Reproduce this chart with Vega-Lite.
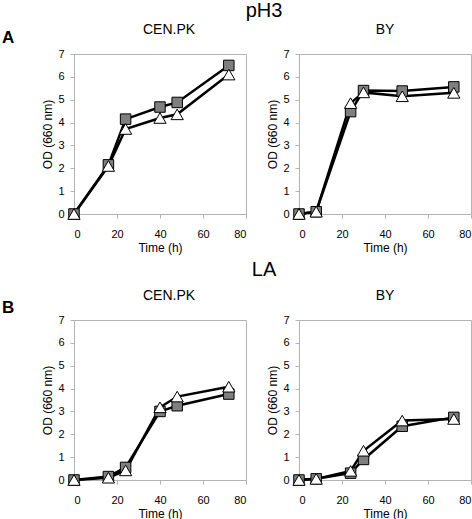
{
  "$schema": "https://vega.github.io/schema/vega-lite/v6.json",
  "padding": {"left": 2, "top": 0, "right": 4, "bottom": 2},
  "background": "white",
  "datasets": {
    "growth": [
      {"condition": "pH3", "strain": "CEN.PK", "series": "Series 1", "time": 0, "od": 0},
      {"condition": "pH3", "strain": "CEN.PK", "series": "Series 1", "time": 16, "od": 2.15},
      {"condition": "pH3", "strain": "CEN.PK", "series": "Series 1", "time": 24, "od": 4.15},
      {"condition": "pH3", "strain": "CEN.PK", "series": "Series 1", "time": 40, "od": 4.68},
      {"condition": "pH3", "strain": "CEN.PK", "series": "Series 1", "time": 48, "od": 4.88},
      {"condition": "pH3", "strain": "CEN.PK", "series": "Series 1", "time": 72, "od": 6.5},
      {"condition": "pH3", "strain": "CEN.PK", "series": "Series 2", "time": 0, "od": 0},
      {"condition": "pH3", "strain": "CEN.PK", "series": "Series 2", "time": 16, "od": 2.1},
      {"condition": "pH3", "strain": "CEN.PK", "series": "Series 2", "time": 24, "od": 3.72},
      {"condition": "pH3", "strain": "CEN.PK", "series": "Series 2", "time": 40, "od": 4.2},
      {"condition": "pH3", "strain": "CEN.PK", "series": "Series 2", "time": 48, "od": 4.36},
      {"condition": "pH3", "strain": "CEN.PK", "series": "Series 2", "time": 72, "od": 6.1},
      {"condition": "pH3", "strain": "BY", "series": "Series 1", "time": 0, "od": 0},
      {"condition": "pH3", "strain": "BY", "series": "Series 1", "time": 8, "od": 0.1},
      {"condition": "pH3", "strain": "BY", "series": "Series 1", "time": 24, "od": 4.48},
      {"condition": "pH3", "strain": "BY", "series": "Series 1", "time": 30, "od": 5.4},
      {"condition": "pH3", "strain": "BY", "series": "Series 1", "time": 48, "od": 5.38},
      {"condition": "pH3", "strain": "BY", "series": "Series 1", "time": 72, "od": 5.56},
      {"condition": "pH3", "strain": "BY", "series": "Series 2", "time": 0, "od": 0},
      {"condition": "pH3", "strain": "BY", "series": "Series 2", "time": 8, "od": 0.1},
      {"condition": "pH3", "strain": "BY", "series": "Series 2", "time": 24, "od": 4.85},
      {"condition": "pH3", "strain": "BY", "series": "Series 2", "time": 30, "od": 5.32},
      {"condition": "pH3", "strain": "BY", "series": "Series 2", "time": 48, "od": 5.15},
      {"condition": "pH3", "strain": "BY", "series": "Series 2", "time": 72, "od": 5.3},
      {"condition": "LA", "strain": "CEN.PK", "series": "Series 1", "time": 0, "od": 0},
      {"condition": "LA", "strain": "CEN.PK", "series": "Series 1", "time": 16, "od": 0.15},
      {"condition": "LA", "strain": "CEN.PK", "series": "Series 1", "time": 24, "od": 0.55},
      {"condition": "LA", "strain": "CEN.PK", "series": "Series 1", "time": 40, "od": 3.0},
      {"condition": "LA", "strain": "CEN.PK", "series": "Series 1", "time": 48, "od": 3.25},
      {"condition": "LA", "strain": "CEN.PK", "series": "Series 1", "time": 72, "od": 3.76},
      {"condition": "LA", "strain": "CEN.PK", "series": "Series 2", "time": 0, "od": 0},
      {"condition": "LA", "strain": "CEN.PK", "series": "Series 2", "time": 16, "od": 0.1},
      {"condition": "LA", "strain": "CEN.PK", "series": "Series 2", "time": 24, "od": 0.42},
      {"condition": "LA", "strain": "CEN.PK", "series": "Series 2", "time": 40, "od": 3.18},
      {"condition": "LA", "strain": "CEN.PK", "series": "Series 2", "time": 48, "od": 3.65},
      {"condition": "LA", "strain": "CEN.PK", "series": "Series 2", "time": 72, "od": 4.08},
      {"condition": "LA", "strain": "BY", "series": "Series 1", "time": 0, "od": 0},
      {"condition": "LA", "strain": "BY", "series": "Series 1", "time": 8, "od": 0.05},
      {"condition": "LA", "strain": "BY", "series": "Series 1", "time": 24, "od": 0.3},
      {"condition": "LA", "strain": "BY", "series": "Series 1", "time": 30, "od": 0.9},
      {"condition": "LA", "strain": "BY", "series": "Series 1", "time": 48, "od": 2.35},
      {"condition": "LA", "strain": "BY", "series": "Series 1", "time": 72, "od": 2.74},
      {"condition": "LA", "strain": "BY", "series": "Series 2", "time": 0, "od": 0},
      {"condition": "LA", "strain": "BY", "series": "Series 2", "time": 8, "od": 0.05},
      {"condition": "LA", "strain": "BY", "series": "Series 2", "time": 24, "od": 0.4},
      {"condition": "LA", "strain": "BY", "series": "Series 2", "time": 30, "od": 1.28},
      {"condition": "LA", "strain": "BY", "series": "Series 2", "time": 48, "od": 2.6},
      {"condition": "LA", "strain": "BY", "series": "Series 2", "time": 72, "od": 2.67}
    ]
  },
  "spacing": 5,
  "vconcat": [
    {
      "title": {"text": "pH3", "fontSize": 20, "anchor": "middle", "frame": "bounds", "dx": 27, "offset": 2},
      "spacing": 19,
      "hconcat": [
        {
          "title": {"text": "A", "anchor": "start", "frame": "group", "fontSize": 17, "fontWeight": "bold", "offset": -24, "dx": -72},
          "vconcat": [
            {
              "width": 172, "height": 160,
              "title": {"text": "CEN.PK", "frame": "group", "anchor": "middle", "dx": 9},
              "data": {"name": "growth"},
              "transform": [{"filter": "datum.condition == 'pH3' && datum.strain == 'CEN.PK'"}],
              "encoding": {
                "x": {"field": "time", "type": "quantitative", "scale": {"domain": [0, 80]}, "axis": {"title": "Time (h)", "values": [0, 20, 40, 60, 80]}},
                "y": {"field": "od", "type": "quantitative", "scale": {"domain": [0, 7]}, "axis": {"title": "OD (660 nm)", "values": [0, 1, 2, 3, 4, 5, 6, 7]}}
              },
              "layer": [
                {"mark": {"type": "line", "color": "black", "strokeWidth": 2.5}, "encoding": {"detail": {"field": "series"}}},
                {"mark": {"type": "point", "filled": true, "stroke": "black", "strokeWidth": 1, "opacity": 1},
                 "encoding": {
                   "shape": {"field": "series", "scale": {"domain": ["Series 1", "Series 2"], "range": ["square", "triangle-up"]}, "legend": null},
                   "fill": {"field": "series", "scale": {"domain": ["Series 1", "Series 2"], "range": ["#7f7f7f", "#ffffff"]}, "legend": null},
                   "size": {"field": "series", "scale": {"domain": ["Series 1", "Series 2"], "range": [110, 150]}, "legend": null}
                 }}
              ]
            }
          ]
        },
        {
          "width": 172, "height": 160,
          "title": {"text": "BY", "frame": "group", "anchor": "middle"},
          "data": {"name": "growth"},
          "transform": [{"filter": "datum.condition == 'pH3' && datum.strain == 'BY'"}],
          "encoding": {
            "x": {"field": "time", "type": "quantitative", "scale": {"domain": [0, 80]}, "axis": {"title": "Time (h)", "values": [0, 20, 40, 60, 80]}},
            "y": {"field": "od", "type": "quantitative", "scale": {"domain": [0, 7]}, "axis": {"title": "OD (660 nm)", "values": [0, 1, 2, 3, 4, 5, 6, 7]}}
          },
          "layer": [
            {"mark": {"type": "line", "color": "black", "strokeWidth": 2.5}, "encoding": {"detail": {"field": "series"}}},
            {"mark": {"type": "point", "filled": true, "stroke": "black", "strokeWidth": 1, "opacity": 1},
             "encoding": {
               "shape": {"field": "series", "scale": {"domain": ["Series 1", "Series 2"], "range": ["square", "triangle-up"]}, "legend": null},
               "fill": {"field": "series", "scale": {"domain": ["Series 1", "Series 2"], "range": ["#7f7f7f", "#ffffff"]}, "legend": null},
               "size": {"field": "series", "scale": {"domain": ["Series 1", "Series 2"], "range": [110, 150]}, "legend": null}
             }}
          ]
        }
      ]
    },
    {
      "title": {"text": "LA", "fontSize": 20, "anchor": "middle", "frame": "bounds", "dx": 27, "offset": 9},
      "spacing": 19,
      "hconcat": [
        {
          "title": {"text": "B", "anchor": "start", "frame": "group", "fontSize": 17, "fontWeight": "bold", "offset": -28, "dx": -72},
          "vconcat": [
            {
              "width": 172, "height": 160,
              "title": {"text": "CEN.PK", "frame": "group", "anchor": "middle", "dx": 9},
              "data": {"name": "growth"},
              "transform": [{"filter": "datum.condition == 'LA' && datum.strain == 'CEN.PK'"}],
              "encoding": {
                "x": {"field": "time", "type": "quantitative", "scale": {"domain": [0, 80]}, "axis": {"title": "Time (h)", "values": [0, 20, 40, 60, 80]}},
                "y": {"field": "od", "type": "quantitative", "scale": {"domain": [0, 7]}, "axis": {"title": "OD (660 nm)", "values": [0, 1, 2, 3, 4, 5, 6, 7]}}
              },
              "layer": [
                {"mark": {"type": "line", "color": "black", "strokeWidth": 2.5}, "encoding": {"detail": {"field": "series"}}},
                {"mark": {"type": "point", "filled": true, "stroke": "black", "strokeWidth": 1, "opacity": 1},
                 "encoding": {
                   "shape": {"field": "series", "scale": {"domain": ["Series 1", "Series 2"], "range": ["square", "triangle-up"]}, "legend": null},
                   "fill": {"field": "series", "scale": {"domain": ["Series 1", "Series 2"], "range": ["#7f7f7f", "#ffffff"]}, "legend": null},
                   "size": {"field": "series", "scale": {"domain": ["Series 1", "Series 2"], "range": [110, 150]}, "legend": null}
                 }}
              ]
            }
          ]
        },
        {
          "width": 172, "height": 160,
          "title": {"text": "BY", "frame": "group", "anchor": "middle"},
          "data": {"name": "growth"},
          "transform": [{"filter": "datum.condition == 'LA' && datum.strain == 'BY'"}],
          "encoding": {
            "x": {"field": "time", "type": "quantitative", "scale": {"domain": [0, 80]}, "axis": {"title": "Time (h)", "values": [0, 20, 40, 60, 80]}},
            "y": {"field": "od", "type": "quantitative", "scale": {"domain": [0, 7]}, "axis": {"title": "OD (660 nm)", "values": [0, 1, 2, 3, 4, 5, 6, 7]}}
          },
          "layer": [
            {"mark": {"type": "line", "color": "black", "strokeWidth": 2.5}, "encoding": {"detail": {"field": "series"}}},
            {"mark": {"type": "point", "filled": true, "stroke": "black", "strokeWidth": 1, "opacity": 1},
             "encoding": {
               "shape": {"field": "series", "scale": {"domain": ["Series 1", "Series 2"], "range": ["square", "triangle-up"]}, "legend": null},
               "fill": {"field": "series", "scale": {"domain": ["Series 1", "Series 2"], "range": ["#7f7f7f", "#ffffff"]}, "legend": null},
               "size": {"field": "series", "scale": {"domain": ["Series 1", "Series 2"], "range": [110, 150]}, "legend": null}
             }}
          ]
        }
      ]
    }
  ],
  "config": {
    "font": "Liberation Sans",
    "view": {"stroke": "#b3b3b3", "strokeWidth": 1},
    "axis": {
      "grid": false,
      "domainColor": "#b3b3b3",
      "tickColor": "#b3b3b3",
      "tickSize": 4,
      "labelFont": "Liberation Sans",
      "labelFontSize": 11,
      "labelColor": "black",
      "titleFont": "Liberation Sans",
      "titleFontSize": 12,
      "titleFontWeight": "normal",
      "titleColor": "black"
    },
    "axisX": {"labelPadding": 10, "titlePadding": 3},
    "axisY": {"labelPadding": 6, "titlePadding": 3},
    "title": {"font": "Liberation Sans", "fontSize": 14, "fontWeight": "normal", "color": "black", "offset": 11}
  }
}
